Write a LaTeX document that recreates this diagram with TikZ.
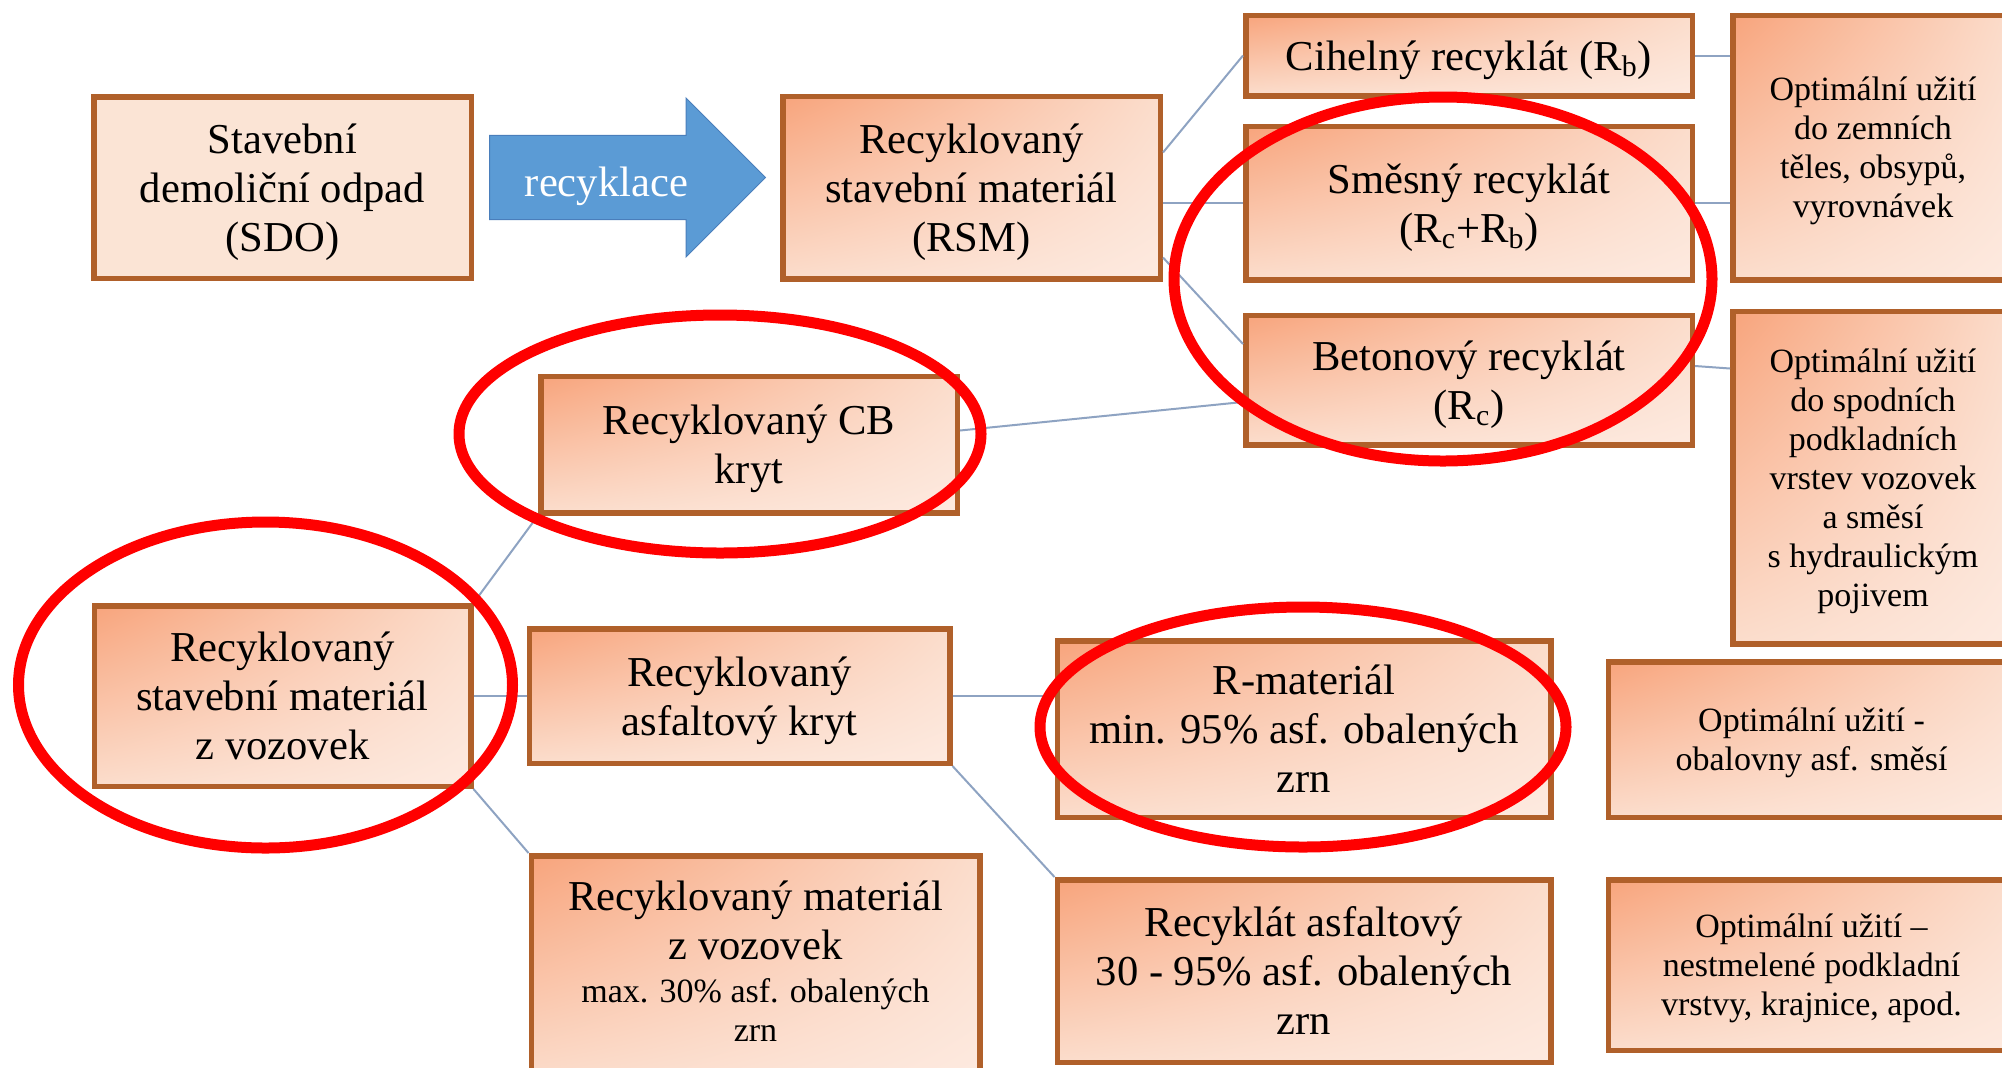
\documentclass[tikz,border=0pt]{standalone}
\usepackage{fontspec}
\setmainfont{Liberation Serif}
\usepackage{tikz}
\usetikzlibrary{shapes.geometric, shapes.arrows, shadings, positioning}

\definecolor{boxbrown}{HTML}{B0602A}
\definecolor{boxdark}{HTML}{F8A47C}
\definecolor{boxmid}{HTML}{FBDDCC}
\definecolor{boxlight}{HTML}{FDEAE0}
\definecolor{sdofill}{HTML}{FBE4D5}
\definecolor{linkblue}{HTML}{8EA3C2}
\definecolor{arrowblue}{HTML}{5B9BD5}
\definecolor{arrowedge}{HTML}{4A7EBB}
\definecolor{ringred}{HTML}{FF0000}

\newcommand{\mainsize}{\fontsize{21.3}{24.5}\selectfont}
\newcommand{\notesize}{\fontsize{17}{19.5}\selectfont}
% struts for the first line of a box
\newcommand{\mstrut}{\rule{0pt}{19.4pt}}
\newcommand{\nstrut}{\rule{0pt}{15.45pt}}

\begin{document}
\begin{tikzpicture}[node distance = 20pt, >=stealth,
    boxframe/.style={rectangle, draw=boxbrown, line width=2.75pt, align=center, inner sep=2pt},
    peach/.style={upper left=boxdark, upper right=boxmid, lower left=boxmid, lower right=boxlight},
    mainstrut/.style={font=\mainsize, execute at end node={\rule[-4.7pt]{0pt}{4.7pt}}},
    plainblock/.style={boxframe, fill=sdofill, mainstrut},
    block/.style={boxframe, peach, mainstrut},
    usage/.style={boxframe, peach, font=\notesize, execute at end node={\rule[-3.75pt]{0pt}{3.75pt}}},
    recarrow/.style={single arrow, fill=arrowblue, draw=arrowedge, line width=0.5pt, text=white, minimum height=138pt, minimum width=79.5pt, single arrow head extend=14.5pt, inner sep=2pt, font=\mainsize, execute at begin node={\rule{0pt}{23.5pt}}},
    link/.style={draw=linkblue, line width=1pt},
    ring/.style={draw=ringred, line width=5.5pt}
]
    \useasboundingbox (0,0) rectangle (1001pt,-533.5pt);
    \clip (0,0) rectangle (1001pt,-533.5pt);

    % Place nodes
    \node [plainblock, minimum width=188.75pt, minimum height=90.75pt] (sdo) at (141.25pt,-93.75pt) {\mstrut Stavební\\demoliční odpad\\(SDO)};
    \node [recarrow, right=7.5pt of sdo, yshift=5pt] (recyk) {recyklace};
    \node [block, right=153pt of sdo, minimum width=188.75pt, minimum height=91.25pt] (rsm) {\mstrut Recyklovaný\\stavební materiál\\(RSM)};
    \node [block, right=40pt of rsm, yshift=-7.75pt, minimum width=223.25pt, minimum height=76.75pt] (smes) {\mstrut Směsný recyklát\\(R\textsubscript{c}+R\textsubscript{b})};
    \node [block, above=12.5pt of smes, minimum width=223.25pt, minimum height=40.25pt] (cihel) {\mstrut Cihelný recyklát (R\textsubscript{b})};
    \node [block, below=15pt of smes, minimum width=223.25pt, minimum height=64.75pt] (beton) {\mstrut Betonový recyklát\\(R\textsubscript{c})};
    \node [usage, right=17.5pt of smes.south east, anchor=south west, minimum width=140.25pt, minimum height=132.25pt] (useA) {\nstrut Optimální užití\\do zemních\\těles, obsypů,\\vyrovnávek};
    \node [usage, below=13pt of useA, minimum width=140.25pt, minimum height=166.25pt] (useB) {\nstrut Optimální užití\\do spodních\\podkladních\\vrstev vozovek\\a směsí\\s hydraulickým\\pojivem};
    \node [block, below=46pt of rsm.south west, anchor=north west, xshift=-121pt, minimum width=208.25pt, minimum height=68.25pt] (cb) {\mstrut Recyklovaný CB\\kryt};
    \node [block, below=161pt of sdo, minimum width=188.25pt, minimum height=90.25pt] (voz) {\mstrut Recyklovaný\\stavební materiál\\z vozovek};
    \node [block, right=26.5pt of voz, minimum width=210.25pt, minimum height=67.25pt] (akryt) {\mstrut Recyklovaný\\asfaltový kryt};
    \node [block, below=43.5pt of akryt.south west, anchor=north west, xshift=1pt, minimum width=224.25pt, minimum height=113.75pt] (mvoz) {\mstrut Recyklovaný materiál\\z vozovek\\[-3pt]{\notesize max. 30\% asf. obalených}\\[-5pt]{\notesize zrn}\rule[-12.7pt]{0pt}{12.7pt}};
    \node [block, right=51pt of akryt.north east, anchor=north west, yshift=-6pt, minimum width=246.75pt, minimum height=88.25pt] (rmat) {\mstrut R-materiál\\min. 95\% asf. obalených\\zrn};
    \node [block, below=28.5pt of rmat, minimum width=246.75pt, minimum height=91.25pt] (rasf) {\mstrut Recyklát asfaltový\\30 - 95\% asf. obalených\\zrn};
    \node [usage, right=26pt of rmat.south east, anchor=south west, minimum width=203.25pt, minimum height=77.75pt] (useC) {\nstrut Optimální užití -\\obalovny asf. směsí};
    \node [usage, right=26pt of rasf.north east, anchor=north west, minimum width=203.25pt, minimum height=85.25pt] (useD) {\nstrut Optimální užití –\\nestmelené podkladní\\vrstvy, krajnice, apod.};

    % Draw edges
    \draw [link] ([yshift=17.5pt]rsm.east) -- (cihel.west);
    \draw [link] (rsm.east |- smes.west) -- (smes.west);
    \draw [link] ([yshift=-35pt]rsm.east) -- ([yshift=18pt]beton.west);
    \draw [link] (cihel.east) -- (useA.west |- cihel.east);
    \draw [link] (smes.east) -- (useA.west |- smes.east);
    \draw [link] ([yshift=7pt]beton.east) -- ([yshift=54.5pt]useB.west);
    \draw [link] ([yshift=7pt]cb.east) -- ([yshift=-11pt]beton.west);
    \draw [link] (cb.south west) -- (voz.north east);
    \draw [link] (voz.east) -- (voz.east -| akryt.west);
    \draw [link] (voz.south east) -- (mvoz.north west);
    \draw [link] (akryt.east) -- (akryt.east -| rmat.west);
    \draw [link] (akryt.south east) -- (rasf.north west);

    % Red marks
    \draw [ring] (721.5pt,-139.5pt) ellipse [x radius=134.5pt, y radius=91pt];
    \draw [ring] (360pt,-217pt) ellipse [x radius=130.5pt, y radius=59.5pt];
    \draw [ring] (132.75pt,-342.5pt) ellipse [x radius=123.5pt, y radius=81.5pt];
    \draw [ring] (651.5pt,-363.5pt) ellipse [x radius=131.5pt, y radius=60pt];
\end{tikzpicture}
\end{document}
